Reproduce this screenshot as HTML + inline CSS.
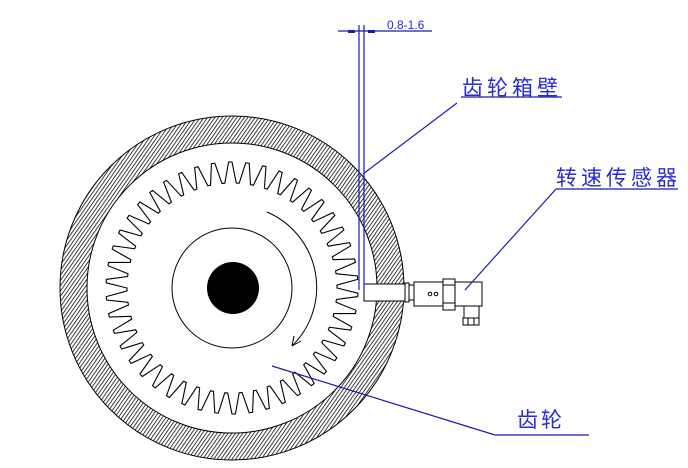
<!DOCTYPE html>
<html><head><meta charset="utf-8"><style>
body{margin:0;background:#fff;}
svg{display:block;}
.t{font-family:"Liberation Sans","Noto Sans CJK SC",sans-serif;fill:#2a2ad0;}
</style></head><body>
<svg id="s" width="688" height="468" viewBox="0 0 688 468" xmlns="http://www.w3.org/2000/svg">
<defs>
<pattern id="h" patternUnits="userSpaceOnUse" width="3" height="3" patternTransform="rotate(35)">
<rect width="3" height="3" fill="#fff"/><line x1="0" y1="0" x2="0" y2="3" stroke="#000" stroke-width="1.5"/>
</pattern>
</defs>
<path d="M60,288a172,172 0 1,0 344,0a172,172 0 1,0 -344,0Z M87,288a145,145 0 1,0 290,0a145,145 0 1,0 -290,0Z" fill="url(#h)" fill-rule="evenodd" stroke="#000" stroke-width="1"/>
<path id="gear" fill="none" stroke="#000" stroke-width="1.1"/>
<circle cx="232" cy="288" r="60" fill="none" stroke="#000" stroke-width="1"/>
<circle cx="233" cy="288" r="26" fill="#000"/>
<path d="M267,212 A82,82 0 0 1 292,346" fill="none" stroke="#000" stroke-width="1"/>
<path d="M292,346 l2,-10 M292,346 l9,-5" stroke="#000" stroke-width="1" fill="none"/>
<g fill="#fff" stroke="#000" stroke-width="1">
<rect x="364" y="284" width="41" height="17"/>
<rect x="405" y="283" width="4" height="19"/>
<rect x="409" y="285" width="5" height="15"/>
<rect x="414" y="282" width="68" height="24"/>
<rect x="443" y="279" width="12" height="31"/>
<line x1="443" y1="285" x2="455" y2="285"/><line x1="443" y1="303" x2="455" y2="303"/>
<rect x="464" y="306" width="15" height="12"/>
<rect x="463" y="318" width="16" height="7"/>
<line x1="468" y1="318" x2="468" y2="325"/><line x1="474" y1="318" x2="474" y2="325"/>
<circle cx="430" cy="294" r="1.8"/><circle cx="436" cy="294" r="1.8"/>
</g>
<g stroke="#1a1ab0" stroke-width="1.2" fill="none">
<line x1="359" y1="25" x2="359" y2="290"/>
<line x1="364" y1="25" x2="364" y2="290"/>
<line x1="338" y1="31" x2="432" y2="31"/>
<line x1="457" y1="103" x2="363" y2="174"/>
<line x1="461" y1="97" x2="562" y2="97"/>
<line x1="556" y1="189" x2="678" y2="189"/>
<line x1="556" y1="189" x2="465" y2="290"/>
<line x1="272" y1="366" x2="495" y2="435"/>
<line x1="495" y1="435" x2="589" y2="435"/>
</g>
<rect x="348" y="30" width="7" height="3" fill="#1a1ab0"/>
<rect x="368" y="30" width="7" height="3" fill="#1a1ab0"/>
<text class="t" x="387" y="29" font-size="12">0.8-1.6</text>
<text class="t" x="462" y="95" font-size="21" letter-spacing="4">齿轮箱壁</text>
<text class="t" x="556" y="185" font-size="21" letter-spacing="4">转速传感器</text>
<text class="t" x="517" y="427" font-size="21" letter-spacing="3">齿轮</text>
</svg>
<script>
var cx=232,cy=288,N=46,rt=126,rr=105,d="";
for(var i=0;i<N;i++){
 var a=2*Math.PI*i/N, s=2*Math.PI/N;
 var pts=[[rr,a],[rt,a+s*0.3],[rt,a+s*0.5],[rr,a+s*0.8]];
 pts.forEach(function(p,j){var x=cx+p[0]*Math.cos(p[1]),y=cy+p[0]*Math.sin(p[1]);d+=(i==0&&j==0?"M":"L")+x.toFixed(1)+","+y.toFixed(1);});
}
d+="Z";
document.getElementById("gear").setAttribute("d",d);
</script>
</body></html>
